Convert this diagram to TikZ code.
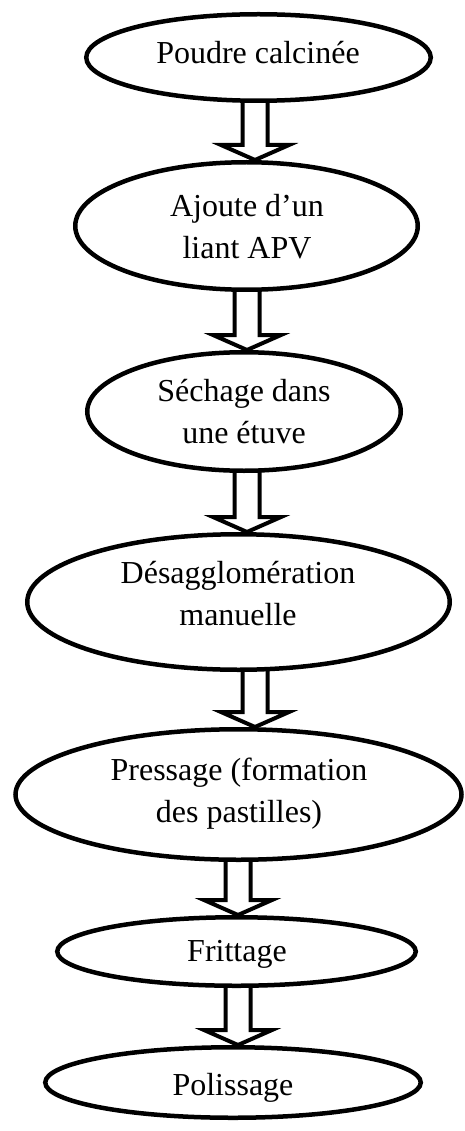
\documentclass[tikz,border=0pt]{standalone}
\usepackage{fontspec}
\setmainfont{Liberation Serif}
\usetikzlibrary{shapes.geometric,calc,backgrounds}
\tikzset{
  ell/.style={ellipse, draw, line width=4.5pt, fill=white, inner sep=0pt},
  txt/.style={align=center, inner sep=0pt, font=\fontsize{32}{42}\selectfont,
    execute at begin node=\strut, execute at end node=\strut},
  blk/.style={line width=4pt, line join=miter, fill=white,
    to path={let \p1=(\tikztostart), \p2=(\tikztotarget) in
      (\x2-12.5pt,\y1) -- (\x2-12.5pt,\y2+15pt) -- (\x2-34pt,\y2+15pt) -- (\x2,\y2)
      -- (\x2+34pt,\y2+15pt) -- (\x2+12.5pt,\y2+15pt) -- (\x2+12.5pt,\y1)}}
}
\begin{document}
\begin{tikzpicture}[x=1pt,y=-1pt]
\useasboundingbox (0,0) rectangle (465,1131);

\node[ell, minimum width=344.5pt, minimum height=86.5pt] (e1) at (258.5,57.5) {};
\node[ell, minimum width=342.5pt, minimum height=127.5pt] (e2) at (246.5,226) {};
\node[ell, minimum width=313.5pt, minimum height=118.5pt] (e3) at (244,411.5) {};
\node[ell, minimum width=422.5pt, minimum height=135.5pt] (e4) at (238.5,602) {};
\node[ell, minimum width=446pt, minimum height=130.5pt] (e5) at (238.5,794.5) {};
\node[ell, minimum width=358.5pt, minimum height=68.5pt] (e6) at (236.5,951.5) {};
\node[ell, minimum width=375.5pt, minimum height=70.5pt] (e7) at (233,1082.5) {};

\node[txt] (t1) at (258,55) {Poudre calcinée};
\node[txt] (t2) at (247,233) {Ajoute d’un\\liant APV};
\node[txt] (t3) at (244,418) {Séchage dans\\une étuve};
\node[txt] (t4) at (238,600) {Désagglomération\\manuelle};
\node[txt] (t5) at (239,797) {Pressage (formation\\des pastilles)};
\node[txt] (t6) at (237,953) {Frittage};
\node[txt] (t7) at (233,1087) {Polissage};

\begin{scope}[on background layer]
\fill[white] (0,0) rectangle (465,1131);
\draw[blk] (e1) to ([xshift=8.5pt]e2.north);
\draw[blk] (e2) to ([xshift=3pt]e3.north);
\draw[blk] (e3) to ([xshift=8.5pt]e4.north);
\draw[blk] (e4) to ([xshift=16.5pt]e5.north);
\draw[blk] (e5) to ([xshift=1.5pt]e6.north);
\draw[blk] (e6) to ([xshift=5pt]e7.north);
\end{scope}
\end{tikzpicture}
\end{document}
